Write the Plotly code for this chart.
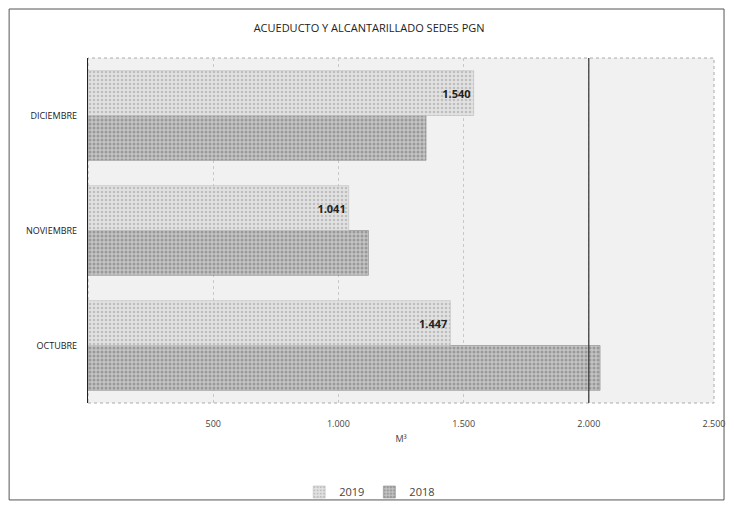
import plotly.graph_objects as go

MONTHS = ["OCTUBRE", "NOVIEMBRE", "DICIEMBRE"]
VALUES_2019 = [1447, 1041, 1540]
VALUES_2018 = [2045, 1120, 1350]
TICKS = [500, 1000, 1500, 2000, 2500]
TITLE = "ACUEDUCTO Y ALCANTARILLADO SEDES PGN"
FONT = "Open Sans, DejaVu Sans, sans-serif"

fig = go.Figure()
fig.add_trace(go.Bar(
    y=MONTHS, x=VALUES_2018, name="2018", orientation="h",
    marker=dict(color="#b4b4b4", line=dict(color="#8a8a8a", width=0.6),
                pattern=dict(shape=".", fgcolor="#6e6e6e", bgcolor="#c4c4c4", size=4, solidity=0.45)),
    hoverinfo="x+name",
))
fig.add_trace(go.Bar(
    y=MONTHS, x=VALUES_2019, name="2019", orientation="h",
    marker=dict(color="#dcdcdc", line=dict(color="#bdbdbd", width=0.6),
                pattern=dict(shape=".", fgcolor="#9a9a9a", bgcolor="#e2e2e2", size=4, solidity=0.35)),
    texttemplate="<b>%{x:,d}</b>", textposition="inside", insidetextanchor="end",
    textfont=dict(family=FONT, size=11, color="#222222"),
    hoverinfo="x+name",
))

shapes = [
    dict(type="rect", xref="paper", yref="paper", x0=0, x1=1, y0=0, y1=1,
         line=dict(color="#aaaaaa", width=1, dash="dot"), layer="below"),
    dict(type="line", xref="x", yref="paper", x0=TICKS[3], x1=TICKS[3], y0=0, y1=1,
         line=dict(color="#333333", width=1.2), layer="above"),
    dict(type="rect", xref="paper", yref="paper", x0=-0.126, x1=1.016,
         y0=-0.281, y1=1.142, line=dict(color="#555555", width=1), layer="above"),
]

fig.update_layout(
    width=718, height=494,
    margin=dict(l=80, r=12, t=50, b=99, autoexpand=False),
    paper_bgcolor="white", plot_bgcolor="#f1f1f1",
    separators=",.",
    barmode="group", bargap=0.22, bargroupgap=0,
    font=dict(family=FONT, size=9, color="#333333"),
    title=dict(text=TITLE, x=0.503, xref="container", y=0.9595, yref="container",
               xanchor="center", yanchor="middle",
               font=dict(family=FONT, size=11, color="#222222")),
    xaxis=dict(range=[0, 2500], tickvals=TICKS, tickformat=",d", showgrid=True,
               gridcolor="#c8c8c8", griddash="dot", zeroline=False, showline=False,
               ticks="", ticklabelstandoff=14, automargin=False,
               tickfont=dict(size=9, color="#444444"),
               title=dict(text="M³", font=dict(size=9, color="#444444"), standoff=6)),
    yaxis=dict(showline=True, linecolor="#222222", linewidth=1.2, ticks="",
               ticklabelstandoff=8, automargin=False,
               tickfont=dict(size=9, color="#222222"), showgrid=False),
    legend=dict(orientation="h", x=0.45, xanchor="center", y=-0.258, yanchor="middle",
                bgcolor="rgba(0,0,0,0)", itemwidth=30,
                traceorder="reversed", font=dict(family=FONT, size=11, color="#444444")),
    shapes=shapes,
)

fig.write_html("out.html")
